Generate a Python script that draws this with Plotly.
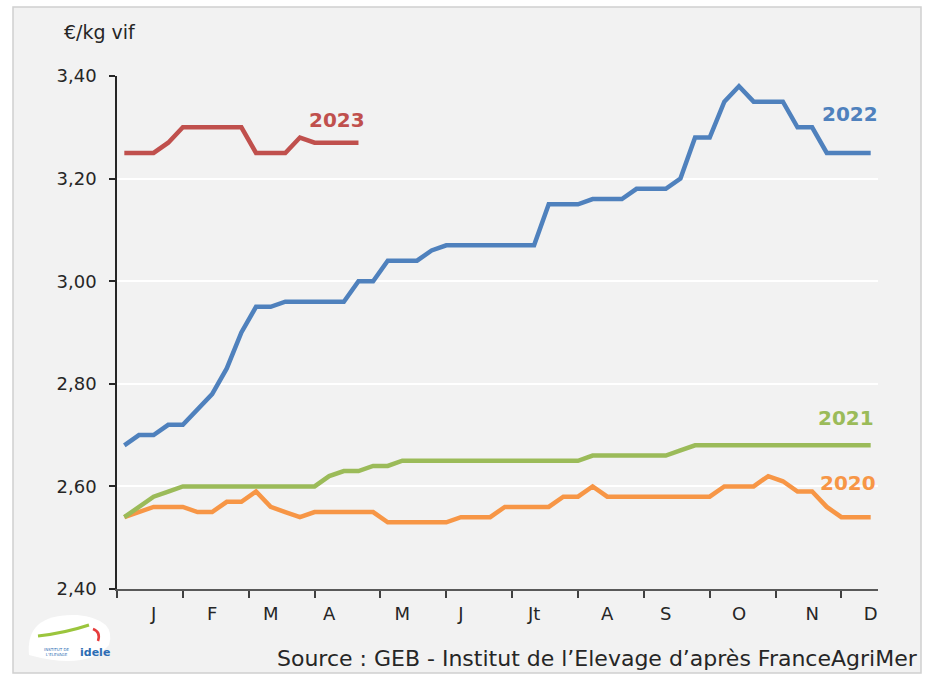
import plotly.graph_objects as go

weeks = list(range(52))
y2020 = [2.54, 2.55, 2.56, 2.56, 2.56, 2.55, 2.55, 2.57, 2.57, 2.59, 2.56, 2.55, 2.54,
         2.55, 2.55, 2.55, 2.55, 2.55, 2.53, 2.53, 2.53, 2.53, 2.53, 2.54, 2.54, 2.54,
         2.56, 2.56, 2.56, 2.56, 2.58, 2.58, 2.60, 2.58, 2.58, 2.58, 2.58, 2.58, 2.58,
         2.58, 2.58, 2.60, 2.60, 2.60, 2.62, 2.61, 2.59, 2.59, 2.56, 2.54, 2.54, 2.54]
y2021 = [2.54, 2.56, 2.58, 2.59, 2.60, 2.60, 2.60, 2.60, 2.60, 2.60, 2.60, 2.60, 2.60,
         2.60, 2.62, 2.63, 2.63, 2.64, 2.64, 2.65, 2.65, 2.65, 2.65, 2.65, 2.65, 2.65,
         2.65, 2.65, 2.65, 2.65, 2.65, 2.65, 2.66, 2.66, 2.66, 2.66, 2.66, 2.66, 2.67,
         2.68, 2.68, 2.68, 2.68, 2.68, 2.68, 2.68, 2.68, 2.68, 2.68, 2.68, 2.68, 2.68]
y2022 = [2.68, 2.70, 2.70, 2.72, 2.72, 2.75, 2.78, 2.83, 2.90, 2.95, 2.95, 2.96, 2.96,
         2.96, 2.96, 2.96, 3.00, 3.00, 3.04, 3.04, 3.04, 3.06, 3.07, 3.07, 3.07, 3.07,
         3.07, 3.07, 3.07, 3.15, 3.15, 3.15, 3.16, 3.16, 3.16, 3.18, 3.18, 3.18, 3.20,
         3.28, 3.28, 3.35, 3.38, 3.35, 3.35, 3.35, 3.30, 3.30, 3.25, 3.25, 3.25, 3.25]
y2023 = [3.25, 3.25, 3.25, 3.27, 3.30, 3.30, 3.30, 3.30, 3.30, 3.25, 3.25, 3.25, 3.28,
         3.27, 3.27, 3.27, 3.27]

month_labels = ["J", "F", "M", "A", "M", "J", "Jt", "A", "S", "O", "N", "D"]
month_pos = [2, 6, 10, 14, 19, 23, 28, 33, 37, 42, 47, 51]
tick_marks = [-0.5 + 4.5 * k for k in range(12)]
y_ticks = [2.40, 2.60, 2.80, 3.00, 3.20, 3.40]
y_ticktext = ["2,40", "2,60", "2,80", "3,00", "3,20", "3,40"]

series = [
    ("2020", y2020, "#f79646"),
    ("2021", y2021, "#9bbb59"),
    ("2022", y2022, "#4f81bd"),
    ("2023", y2023, "#c0504d"),
]

FONT = "DejaVu Sans"
PW, PH = 761.0, 513.0
fig = go.Figure()
for name, ys, col in series:
    fig.add_trace(go.Scatter(x=weeks[:len(ys)], y=ys, mode="lines", name=name,
                             line=dict(color=col, width=4.5), showlegend=False))
fig.add_trace(go.Scatter(x=[0], y=[2.5], xaxis="x2", mode="markers",
                         marker=dict(opacity=0), showlegend=False, hoverinfo="skip"))

fig.update_layout(
    width=926, height=675,
    margin=dict(l=117, r=48, t=76, b=86),
    paper_bgcolor="white",
    plot_bgcolor="#f2f2f2",
    font=dict(family=FONT, color="#262626"),
    xaxis=dict(range=[-0.5, 51.5], tickvals=tick_marks, showticklabels=False,
               ticks="outside", ticklen=7, tickcolor="#404040", tickwidth=1.5,
               showline=True, linecolor="#595959", linewidth=1.5,
               showgrid=False, zeroline=False),
    xaxis2=dict(range=[-0.5, 51.5], overlaying="x", anchor="y", side="bottom",
                tickvals=month_pos, ticktext=month_labels, ticks="",
                showline=False, showgrid=False, zeroline=False,
                tickfont=dict(size=18, color="#262626"), ticklabelstandoff=12),
    yaxis=dict(range=[2.40, 3.40], tickvals=y_ticks, ticktext=y_ticktext,
               ticks="outside", ticklen=6, tickcolor="#262626", tickwidth=1.5,
               showline=True, linecolor="#262626", linewidth=1.5,
               showgrid=True, gridcolor="white", gridwidth=2, zeroline=False,
               tickfont=dict(size=18, color="#262626"), ticklabelstandoff=9),
    shapes=[
        dict(type="rect", xref="paper", yref="paper", layer="below",
             x0=-104 / PW, x1=1 + 43 / PW, y0=-84 / PH, y1=1 + 69 / PH,
             line=dict(color="#d0d0d0", width=1.5), fillcolor="#f2f2f2"),
        dict(type="path", xref="paper", yref="paper", layer="above",
             path=("M %f %f Q %f %f %f %f Q %f %f %f %f Q %f %f %f %f Z" % (
                 -88 / PW, -66 / PH,
                 -92 / PW, -24 / PH, -40 / PW, -26 / PH,
                 0 / PW, -30 / PH, -8 / PW, -56 / PH,
                 -30 / PW, -82 / PH, -88 / PW, -66 / PH)),
             fillcolor="white", line=dict(width=0)),
        dict(type="path", xref="paper", yref="paper", layer="above",
             path=("M %f %f Q %f %f %f %f" % (
                 -79 / PW, -47 / PH, -52 / PW, -44 / PH, -28 / PW, -36 / PH)),
             line=dict(color="#9bc53d", width=3)),
        dict(type="path", xref="paper", yref="paper", layer="above",
             path=("M %f %f Q %f %f %f %f" % (
                 -24 / PW, -40 / PH, -16 / PW, -43 / PH, -19 / PW, -52 / PH)),
             line=dict(color="#e63c3c", width=2.5)),
    ],
    annotations=[
        dict(text="€/kg vif", xref="paper", yref="paper", x=-55 / PW, y=1 + 44 / PH,
             xanchor="left", yanchor="middle", showarrow=False,
             font=dict(size=19, color="#262626")),
        dict(text="2023", x=12.5, y=3.28, xref="x", yref="y", xanchor="left",
             yanchor="bottom", showarrow=False, yshift=4,
             font=dict(size=20, color="#c0504d", weight="bold")),
        dict(text="2022", x=51.5, y=3.325, xref="x", yref="y", xanchor="right",
             yanchor="middle", showarrow=False, xshift=2,
             font=dict(size=20, color="#4f81bd", weight="bold")),
        dict(text="2021", x=51.5, y=2.733, xref="x", yref="y", xanchor="right",
             yanchor="middle", showarrow=False, xshift=-2,
             font=dict(size=20, color="#9bbb59", weight="bold")),
        dict(text="2020", x=51.5, y=2.607, xref="x", yref="y", xanchor="right",
             yanchor="middle", showarrow=False, xshift=0,
             font=dict(size=20, color="#f79646", weight="bold")),
        dict(text="Source : GEB - Institut de l’Elevage d’après FranceAgriMer",
             xref="paper", yref="paper", x=1 + 42 / PW, y=-70 / PH,
             xanchor="right", yanchor="middle", showarrow=False,
             font=dict(size=22, color="#262626")),
        dict(text="<b>idele</b>", xref="paper", yref="paper", x=-22 / PW, y=-63 / PH,
             xanchor="center", yanchor="middle", showarrow=False,
             font=dict(size=11, color="#2e6db4")),
        dict(text="INSTITUT DE<br>L'ELEVAGE", xref="paper", yref="paper", x=-60 / PW,
             y=-63 / PH, xanchor="center", yanchor="middle", showarrow=False,
             font=dict(size=4, color="#2e6db4")),
    ],
)

fig.write_html("out.html", config={"displayModeBar": False},
               post_script="document.body.style.margin='0';document.body.style.overflow='hidden';")
